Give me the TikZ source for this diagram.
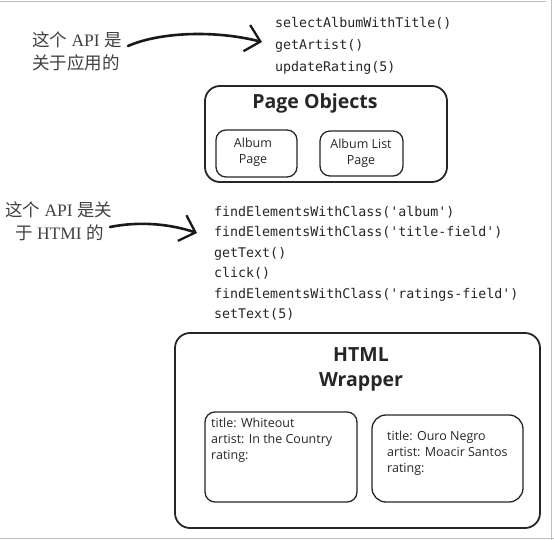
\documentclass[tikz,border=0pt]{standalone}
\usepackage{fontspec}
\setmainfont{Liberation Serif}
\newfontfamily\cjk{Noto Sans CJK SC}
\newfontfamily\codefont{DejaVu Sans Mono}
\newfontfamily\hand{Open Sans}
\usetikzlibrary{arrows.meta}
\tikzset{
  bigbox/.style={draw=black!85, line width=1.8pt, rounded corners=15pt, inner sep=0pt},
  smallbox/.style={draw=black!85, line width=1.3pt, rounded corners=10pt, inner sep=0pt},
  codeline/.style={font=\codefont\fontsize{13.3}{16}\selectfont, anchor=base west, inner sep=0pt, text=black!85},
  cnlabel/.style={font=\fontsize{17.5}{20}\selectfont, anchor=base west, inner sep=0pt, text=black!75},
  boxtitle/.style={font=\hand\bfseries\fontsize{19.5}{24.5}\selectfont, align=center, inner sep=0pt, text=black!85},
  boxtext/.style={font=\hand\fontsize{12.5}{16}\selectfont, align=left, inner sep=0pt, text=black!85},
  handarrow/.style={draw=black!90, line width=2.6pt, line cap=round,
    -{Straight Barb[length=14pt,width=27pt,line width=2.3pt]}},
  scanline/.style={draw=black!25, line width=0.8pt}
}
\begin{document}
\begin{tikzpicture}[x=1pt,y=-1pt]
\useasboundingbox (0,0) rectangle (554,540);
% faint scan frame
\draw[scanline] (0,1) -- (546,1);
\draw[scanline] (551,0) -- (551,540);
\draw[scanline] (0,538.5) -- (554,538.5);

% top labels and code
\node[cnlabel] (l1a) at (32,46.5) {{\cjk 这个} API {\cjk 是}};
\node[cnlabel] (l1b) at (32,69.5) {{\cjk 关于应用的}};
\node[codeline] (c1a) at (275,28) {selectAlbumWithTitle()};
\node[codeline] (c1b) at (275,50) {getArtist()};
\node[codeline] (c1c) at (275,72) {updateRating(5)};
\coordinate (a1s) at (128,46);
\coordinate (a1e) at (262,42);
\draw[handarrow] (a1s) .. controls (160,32) and (215,30) .. (a1e);

% Page Objects
\node[bigbox, minimum width=242pt, minimum height=96pt] (po) at (326,134) {};
\node[boxtitle] (pot) at (315,103) {Page Objects};
\node[smallbox, minimum width=81pt, minimum height=47pt] (ap) at (256.5,153.5) {};
\node[boxtext, align=center] (apt) at (253,152) {Album\\Page};
\node[smallbox, minimum width=83pt, minimum height=45pt] (alp) at (361.5,153.5) {};
\node[boxtext, align=center] (alpt) at (361,153.5) {Album List\\Page};

% second labels and code
\node[cnlabel] (l2a) at (5,216.5) {{\cjk 这个} API {\cjk 是关}};
\node[cnlabel] (l2b) at (15,239.5) {{\cjk 于} HTMI {\cjk 的}};
\node[codeline] (c2a) at (214,216) {findElementsWithClass('album')};
\node[codeline] (c2b) at (214,236.5) {findElementsWithClass('title-field')};
\node[codeline] (c2c) at (214,257) {getText()};
\node[codeline] (c2d) at (214,277.5) {click()};
\node[codeline] (c2e) at (214,298) {findElementsWithClass('ratings-field')};
\node[codeline] (c2f) at (214,318.5) {setText(5)};
\coordinate (a2s) at (110,227);
\coordinate (a2e) at (197,233);
\draw[handarrow] (a2s) .. controls (140,221) and (170,224) .. (a2e);

% HTML Wrapper
\node[bigbox, minimum width=365pt, minimum height=195pt] (hw) at (357.5,430.5) {};
\node[boxtitle, font=\hand\bfseries\fontsize{19.5}{25}\selectfont] (hwt) at (361,369.5) {HTML\\Wrapper};
\node[smallbox, minimum width=152pt, minimum height=90pt] (b1) at (281,457) {};
\node[boxtext, anchor=north west] (b1t) at (211,418) {title: Whiteout\\artist: In the Country\\rating:};
\node[smallbox, minimum width=151pt, minimum height=87pt, rounded corners=14pt] (b2) at (447.5,458.5) {};
\node[boxtext, anchor=north west] (b2t) at (387,431) {title: Ouro Negro\\artist: Moacir Santos\\rating:};
\end{tikzpicture}
\end{document}
